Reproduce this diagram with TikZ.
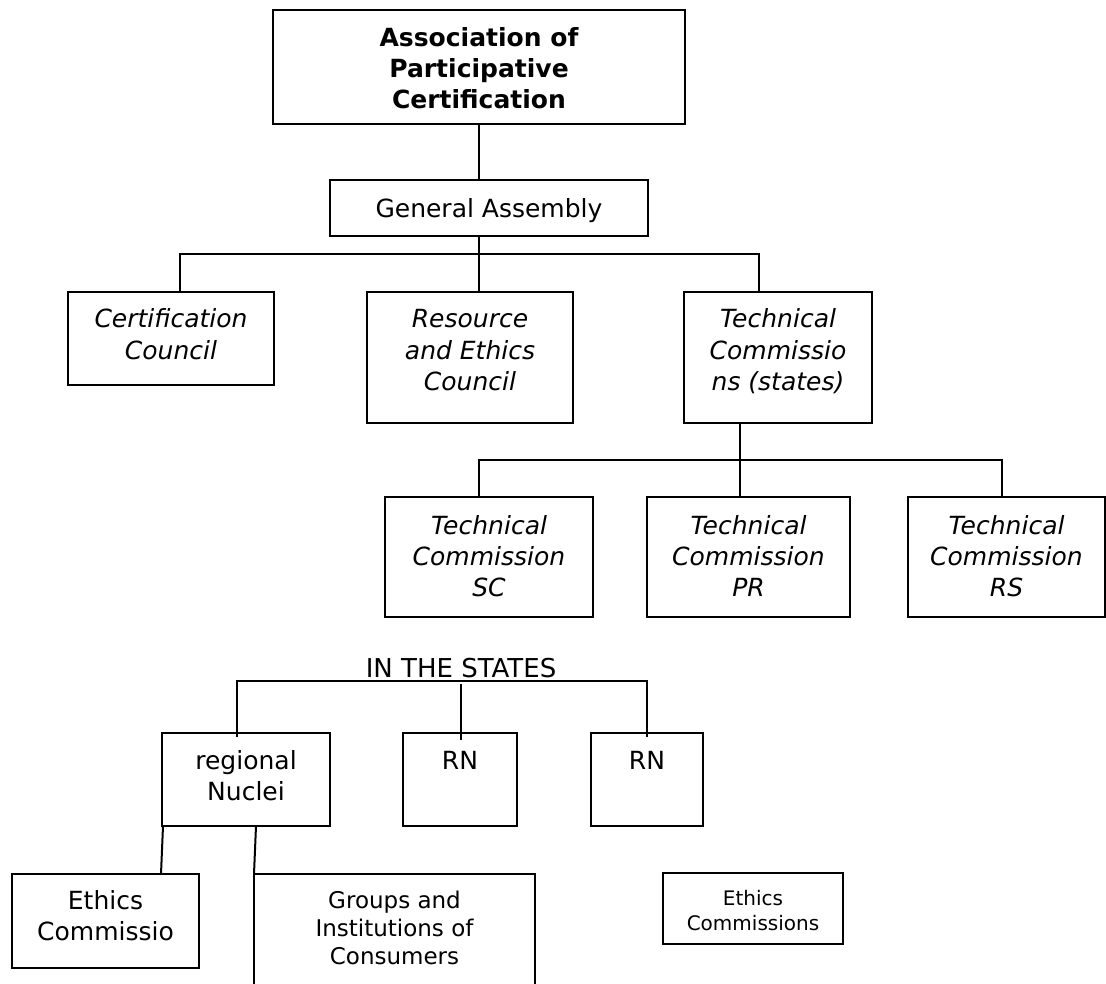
\documentclass[tikz,border=0pt]{standalone}
\usepackage{fontspec}
\setmainfont{DejaVu Sans}
\newcommand\bxt[4]{\parbox[c][#2][t]{#1}{\centering\rule{0pt}{#3}#4\par}}
\begin{document}
\begin{tikzpicture}[x=1pt,y=-1pt,
  box/.style={draw, line width=2pt, inner sep=0pt, outer sep=0pt},
  big/.style={font=\fontsize{25}{31}\selectfont},
  mid/.style={font=\fontsize{23}{28}\selectfont},
  small/.style={font=\fontsize{20}{25}\selectfont},
  conn/.style={line width=2pt}]
\clip (0,0) rectangle (1106,984);
\fill[white] (0,0) rectangle (1106,984);
% level 1
\node[box,big] (top) at (479,67) {\bxt{412pt}{114pt}{37pt}{\bfseries Association of\\Participative\\Certification}};
\node[box,big] (ga) at (489,208) {\bxt{318pt}{56pt}{38pt}{General Assembly}};
% level 2
\node[box,big] (cert) at (171,338.5) {\bxt{206pt}{93pt}{36pt}{\itshape Certification\\Council}};
\node[box,big] (res) at (470,357.5) {\bxt{206pt}{131pt}{36pt}{\itshape Resource\\and Ethics\\Council}};
\node[box,big] (techc) at (778,357.5) {\bxt{188pt}{131pt}{36pt}{\itshape Technical\\Commissio\\ns (states)}};
% level 3
\node[box,big] (sc) at (489,557) {\bxt{208pt}{120pt}{37pt}{\itshape Technical\\Commission\\SC}};
\node[box,big] (pr) at (748.5,557) {\bxt{203pt}{120pt}{37pt}{\itshape Technical\\Commission\\PR}};
\node[box,big] (rs) at (1006.5,557) {\bxt{197pt}{120pt}{37pt}{\itshape Technical\\Commission\\RS}};
% in the states
\node[font=\fontsize{26}{31}\selectfont, anchor=base, inner sep=0pt] (states) at (461,677) {IN THE STATES};
\coordinate (bar3) at (461,681);
\node[box,big] (regn) at (246,779.5) {\bxt{168pt}{93pt}{36pt}{regional\\Nuclei}};
\node[box,big] (rn1) at (460,779.5) {\bxt{114pt}{93pt}{36pt}{RN}};
\node[box,big] (rn2) at (647,779.5) {\bxt{112pt}{93pt}{36pt}{RN}};
\node[box,big] (ethc) at (105.5,921) {\bxt{187pt}{94pt}{35pt}{Ethics\\Commissio}};
\node[box,mid] (grp) at (394.5,939) {\bxt{281pt}{130pt}{34pt}{Groups and\\Institutions of\\Consumers}};
\node[box,small] (ethcs) at (753,908.5) {\bxt{180pt}{71pt}{32pt}{Ethics\\Commissions}};
% connectors
\coordinate (bar1) at (479,254);
\coordinate (bar2) at (740,460);
\draw[conn] (top.south) -- (top.south |- ga.north);
\draw[conn] (ga.south -| bar1) -- ([xshift=9pt]res.north);
\draw[conn] ([xshift=9pt]cert.north) |- (bar1) -| ([xshift=-19pt]techc.north);
\draw[conn] ([xshift=-38pt]techc.south) -- ([xshift=-8.5pt]pr.north);
\draw[conn] ([xshift=-10pt]sc.north) |- (bar2) -| ([xshift=-4.5pt]rs.north);
\draw[conn] ([shift={(-9pt,-4pt)}]regn.north) |- (bar3) -| ([yshift=-4pt]rn2.north);
\draw[conn] ([yshift=-3pt]bar3) -- ([shift={(1pt,-7pt)}]rn1.north);
\draw[conn] ([xshift=1pt]regn.south west) -- ([xshift=-1pt]regn.south west |- ethc.north);
\draw[conn] ([xshift=10pt]regn.south) -- (grp.north west);
\end{tikzpicture}
\end{document}
